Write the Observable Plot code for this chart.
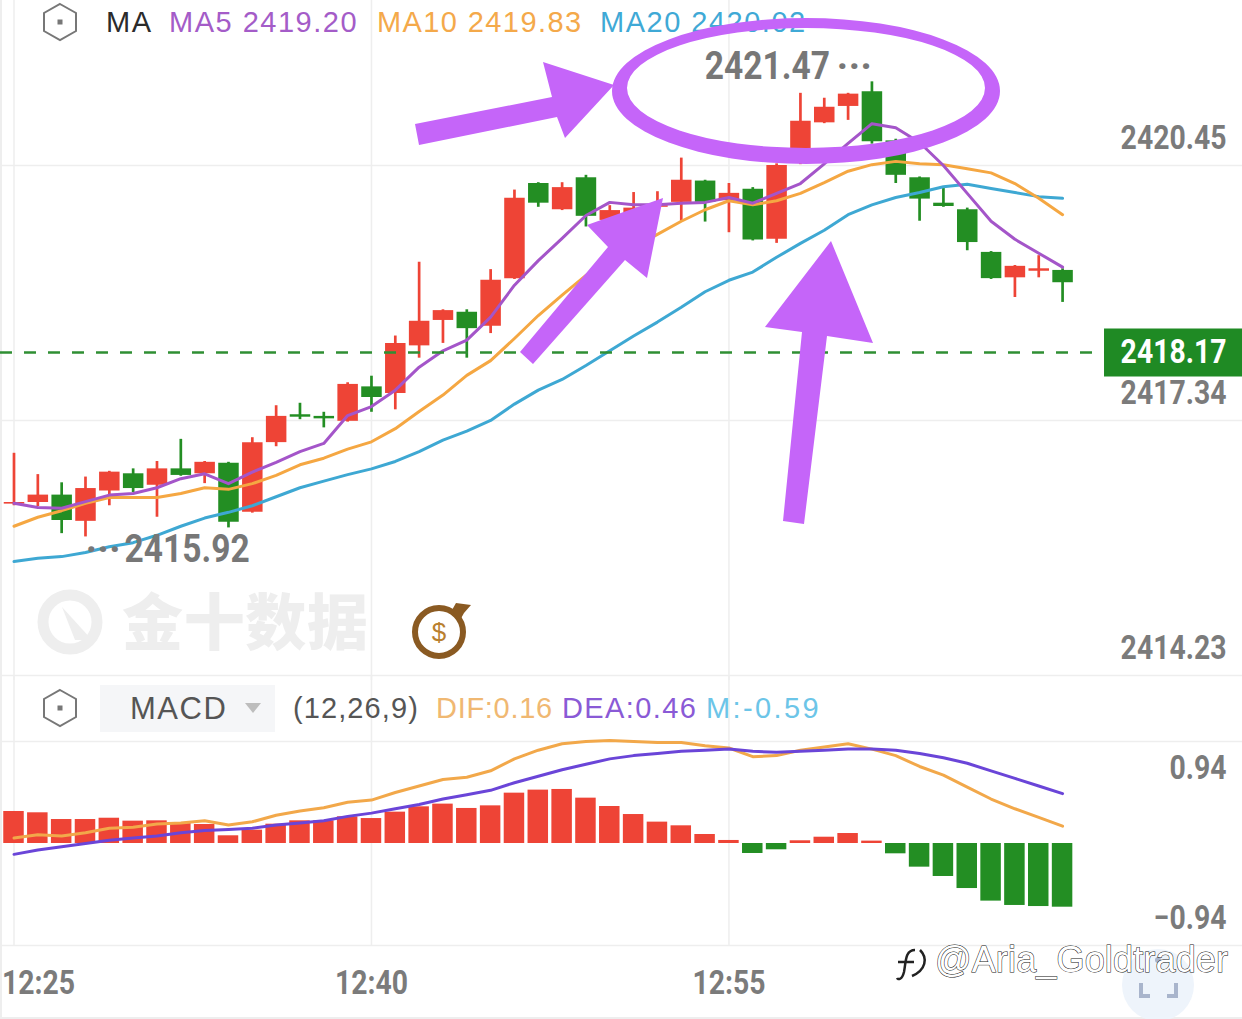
<!DOCTYPE html>
<html><head><meta charset="utf-8">
<script src="https://cdn.jsdelivr.net/npm/d3@7"></script>
<script src="https://cdn.jsdelivr.net/npm/@observablehq/plot@0.6"></script>
<style>
html,body{margin:0;padding:0;background:#fff}
#page{position:relative;width:1242px;height:1019px;overflow:hidden;background:#fff}
#page>svg,#page>div{position:absolute}
#edge{left:0;top:0;width:2px;height:1019px;background:#eeeeee}
#foot{left:0;top:1017px;width:1242px;height:2px;background:#eeeeee}
#macdBox{left:100px;top:685px;width:175px;height:47px;background:#f5f6f8}
.lg{position:absolute;white-space:nowrap;font-family:"Liberation Sans",sans-serif;line-height:1}
.num text{font-family:"Roboto",sans-serif}
</style></head><body><div id="page"><div id="edge"></div><div id="foot"></div><div id="macdBox"></div></div>
<script>
const opens=[2416.32,2416.34,2416.43,2416.11,2416.48,2416.69,2416.55,2416.75,2416.69,2416.82,2416.22,2417.07,2417.41,2417.39,2417.33,2417.75,2417.67,2418.25,2418.56,2418.66,2418.49,2419.07,2420.23,2419.91,2420.30,2419.78,2419.86,2419.94,2420.00,2420.26,2420.02,2420.16,2419.55,2420.48,2420.97,2421.17,2421.35,2420.75,2420.30,2419.99,2419.91,2419.39,2419.08,2419.16,2419.17];
const closes=[2416.34,2416.43,2416.12,2416.51,2416.71,2416.51,2416.75,2416.67,2416.83,2416.10,2417.07,2417.39,2417.38,2417.36,2417.78,2417.62,2418.28,2418.55,2418.68,2418.46,2419.05,2420.05,2419.99,2420.18,2419.83,2419.90,2419.93,2419.96,2420.27,2420.00,2420.11,2419.54,2420.45,2420.99,2421.16,2421.32,2420.74,2420.33,2420.04,2419.95,2419.51,2419.07,2419.22,2419.19,2419.02];
const highs=[2416.94,2416.68,2416.58,2416.65,2416.72,2416.75,2416.84,2417.11,2416.84,2416.83,2417.13,2417.52,2417.55,2417.44,2417.80,2417.88,2418.37,2419.27,2418.69,2418.69,2419.18,2420.15,2420.24,2420.24,2420.33,2419.96,2420.12,2420.13,2420.54,2420.27,2420.23,2420.18,2420.47,2421.33,2421.27,2421.33,2421.47,2420.77,2420.31,2420.18,2419.93,2419.40,2419.23,2419.35,2419.19];
const lows=[2416.30,2416.29,2415.96,2415.92,2416.30,2416.46,2416.16,2416.66,2416.57,2416.03,2416.21,2417.02,2417.35,2417.25,2417.32,2417.44,2417.47,2418.10,2418.28,2418.10,2418.40,2419.06,2419.94,2419.90,2419.70,2419.73,2419.80,2419.88,2419.77,2419.76,2419.63,2419.53,2419.50,2420.46,2420.96,2421.00,2420.71,2420.23,2419.77,2419.94,2419.41,2419.06,2418.84,2419.08,2418.78];
const ma5=[2416.33,2416.28,2416.27,2416.35,2416.43,2416.45,2416.52,2416.63,2416.69,2416.57,2416.71,2416.83,2416.96,2417.06,2417.40,2417.51,2417.71,2417.99,2418.19,2418.32,2418.60,2418.99,2419.29,2419.56,2419.84,2420.00,2419.97,2419.97,2419.99,2420.00,2420.06,2419.99,2420.11,2420.23,2420.47,2420.72,2420.96,2420.91,2420.73,2420.45,2420.11,2419.77,2419.55,2419.38,2419.21];
const ma10=[2416.05,2416.16,2416.24,2416.33,2416.40,2416.40,2416.40,2416.45,2416.52,2416.50,2416.57,2416.67,2416.80,2416.88,2416.99,2417.08,2417.24,2417.45,2417.65,2417.89,2418.07,2418.34,2418.62,2418.87,2419.11,2419.32,2419.45,2419.61,2419.77,2419.91,2420.02,2419.97,2420.02,2420.11,2420.24,2420.38,2420.46,2420.50,2420.47,2420.46,2420.41,2420.36,2420.23,2420.05,2419.85];
const ma20=[2415.62,2415.66,2415.68,2415.73,2415.80,2415.85,2415.94,2416.05,2416.15,2416.22,2416.30,2416.41,2416.52,2416.60,2416.68,2416.75,2416.84,2416.96,2417.10,2417.21,2417.34,2417.54,2417.71,2417.84,2418.01,2418.19,2418.37,2418.54,2418.72,2418.91,2419.05,2419.15,2419.33,2419.50,2419.66,2419.85,2419.97,2420.06,2420.12,2420.19,2420.22,2420.17,2420.12,2420.07,2420.05];
const hist=[0.295,0.283,0.221,0.221,0.233,0.206,0.209,0.184,0.175,0.071,0.123,0.178,0.209,0.209,0.246,0.230,0.289,0.338,0.363,0.323,0.347,0.464,0.492,0.498,0.418,0.341,0.267,0.197,0.163,0.083,0.028,-0.092,-0.058,0.025,0.058,0.092,0.022,-0.095,-0.218,-0.304,-0.415,-0.531,-0.571,-0.581,-0.587];
const dif=[0.05,0.08,0.07,0.10,0.14,0.15,0.18,0.19,0.21,0.17,0.20,0.26,0.30,0.33,0.38,0.40,0.47,0.53,0.59,0.61,0.67,0.78,0.86,0.92,0.94,0.95,0.94,0.93,0.93,0.90,0.88,0.80,0.81,0.86,0.89,0.92,0.87,0.81,0.71,0.63,0.52,0.41,0.32,0.24,0.16];
const dea=[-0.10,-0.06,-0.03,0.00,0.03,0.05,0.07,0.10,0.12,0.13,0.14,0.17,0.19,0.21,0.25,0.28,0.32,0.36,0.41,0.45,0.49,0.56,0.62,0.68,0.73,0.78,0.81,0.83,0.85,0.86,0.87,0.85,0.84,0.85,0.86,0.87,0.87,0.86,0.83,0.79,0.74,0.67,0.60,0.53,0.46];
const priceTicks=[2420.45,2417.34,2414.23];
const macdTicks=[0.94,-0.94];
const lastPrice=2418.17, highPrice=2421.47, lowPrice=2415.92;
const timeLabels=["12:25","12:40","12:55"];

const RED="#ee4436",GREEN="#238e23",GRID="#eeeeee",GREY="#7b7b7b";
const minute=m=>new Date(Date.UTC(2024,0,1,12,25)+m*60000);
const xDomain=[minute(-0.5665),minute(51.55)];
const timeTicks=timeLabels.map(s=>new Date(`2024-01-01T${s}:00Z`));
const rows=opens.map((o,i)=>({t:minute(i),open:o,close:closes[i],high:highs[i],low:lows[i],ma5:ma5[i],ma10:ma10[i],ma20:ma20[i],m:hist[i],dif:dif[i],dea:dea[i]}));
const tone=d=>d.close>=d.open?RED:GREEN;
const fmt=d3.format(".2f");
const page=document.getElementById("page");
const numFont={fontSize:33,fontWeight:700,fill:GREY};
const peakFont={fontSize:39,fontWeight:700,fill:"#777"};

const priceChart=Plot.plot({
  width:1242,height:680,margin:0,className:"num",style:{background:"none",overflow:"visible"},
  x:{type:"utc",domain:xDomain,axis:null},
  y:{domain:[2422.462,2414.23],range:[0,675],axis:null},
  marks:[
    Plot.ruleY(priceTicks,{stroke:GRID,strokeWidth:1.5}),
    Plot.ruleX(timeTicks,{stroke:GRID,strokeWidth:1.5}),
    Plot.axisY(priceTicks,{anchor:"right",label:null,tickSize:0,tickPadding:0,textAnchor:"end",dx:-16,dy:-27,tickFormat:fmt,...numFont}),
    Plot.ruleX(rows,{x:"t",y1:"low",y2:"high",stroke:tone,strokeWidth:2.7}),
    Plot.ruleX(rows,{x:"t",y1:"open",y2:"close",stroke:tone,strokeWidth:20.5,strokeLinecap:"butt"}),
    Plot.line(rows,{x:"t",y:"ma20",stroke:"#3ea8d3",strokeWidth:3}),
    Plot.line(rows,{x:"t",y:"ma10",stroke:"#f5a742",strokeWidth:3}),
    Plot.line(rows,{x:"t",y:"ma5",stroke:"#a455c9",strokeWidth:3}),
    Plot.ruleY([lastPrice],{stroke:"#2f8f33",strokeWidth:2.5,strokeDasharray:"12,12"}),
    Plot.ruleY([lastPrice],{x1:minute(45.76),x2:xDomain[1],stroke:"#1f8a24",strokeWidth:48}),
    Plot.text([lastPrice],{y:d=>d,frameAnchor:"right",dx:-16,text:fmt,textAnchor:"end",fontSize:33,fontWeight:700,fill:"#fff"}),
    Plot.text([rows[36]],{x:"t",y:()=>highPrice,text:()=>fmt(highPrice),textAnchor:"end",dx:-42,dy:-15,...peakFont}),
    Plot.text([rows[36]],{x:"t",y:()=>highPrice,text:()=>"···",textAnchor:"end",dy:-15,...peakFont}),
    Plot.text([rows[3]],{x:"t",y:()=>lowPrice,text:()=>"···",textAnchor:"start",dy:13,...peakFont}),
    Plot.text([rows[3]],{x:"t",y:()=>lowPrice,text:()=>fmt(lowPrice),textAnchor:"start",dx:39,dy:13,...peakFont})
  ]
});
page.appendChild(priceChart);priceChart.style.left="0";priceChart.style.top="0";

const macdChart=Plot.plot({
  width:1242,height:344,margin:0,className:"num",style:{background:"none",overflow:"visible"},
  x:{type:"utc",domain:xDomain,axis:null},
  y:{domain:[1.5484,-1.6221],range:[0,344],axis:null},
  marks:[
    Plot.ruleY(macdTicks,{stroke:GRID,strokeWidth:1.5}),
    Plot.ruleX(timeTicks,{y1:1.5484,y2:-0.94,stroke:GRID,strokeWidth:1.5}),
    Plot.axisY([0.94],{anchor:"right",label:null,tickSize:0,tickPadding:0,textAnchor:"end",dx:-16,dy:27,tickFormat:fmt,...numFont}),
    Plot.axisY([-0.94],{anchor:"right",label:null,tickSize:0,tickPadding:0,textAnchor:"end",dx:-16,dy:-27,tickFormat:d=>`−${fmt(-d)}`,...numFont}),
    Plot.rectY(rows,{x1:d=>new Date(+d.t-25800),x2:d=>new Date(+d.t+25800),y1:0,y2:"m",fill:d=>d.m>=0?RED:GREEN}),
    Plot.line(rows,{x:"t",y:"dif",stroke:"#f2a84a",strokeWidth:3}),
    Plot.line(rows,{x:"t",y:"dea",stroke:"#6a45d8",strokeWidth:3}),
    Plot.axisX(timeTicks.slice(1),{anchor:"bottom",label:null,tickSize:0,tickPadding:0,dy:-36,lineAnchor:"middle",tickFormat:d3.utcFormat("%H:%M"),...numFont}),
    Plot.axisX(timeTicks.slice(0,1),{anchor:"bottom",label:null,tickSize:0,tickPadding:0,dy:-36,dx:-12,textAnchor:"start",lineAnchor:"middle",tickFormat:d3.utcFormat("%H:%M"),...numFont})
  ]
});
page.appendChild(macdChart);macdChart.style.left="0";macdChart.style.top="675px";

// The reference numerals are a condensed face: narrow Roboto's glyphs about each text's own anchor.
document.querySelectorAll(".num text").forEach(t=>{
  if(t.textContent==="···")return;
  t.setAttribute("transform",`${t.getAttribute("transform")||""} scale(0.86,1)`);
});

const legend=[["MA",106,8,29,"#2b2b2b",1.5],["MA5 2419.20",169,8,29,"#a45cc8",1.5],["MA10 2419.83",377,8,29,"#f4a94a",1.4],["MA20 2420.02",600,8,29,"#3fa9d6",1.5],
 ["MACD",130,693,31,"#555",1.5],["(12,26,9)",293,694,29,"#555",1.1],["DIF:0.16",436,694,29,"#f0b872",0.7],["DEA:0.46",562,694,29,"#8a5ad6",1.4],["M:-0.59",706,694,29,"#6cc5e8",2.4]];

const NS="http://www.w3.org/2000/svg";
const deco=document.createElementNS(NS,"svg");
deco.setAttribute("width",1242);deco.setAttribute("height",1019);
deco.style.left="0";deco.style.top="0";deco.style.overflow="visible";
const hex=(cx,cy)=>`<path d="M${cx} ${cy-18}L${cx+16} ${cy-9}V${cy+9}L${cx} ${cy+18}L${cx-16} ${cy+9}V${cy-9}Z" fill="none" stroke="#777" stroke-width="2"/><rect x="${cx-2.5}" y="${cy-2.5}" width="5" height="5" fill="#777"/>`;
deco.innerHTML=`
<path d="M245 703H261L253 713Z" fill="#bdbdbd"/>
${hex(60,22)}${hex(60,708)}
<g fill="none" stroke="#eeeeee" stroke-width="11"><circle cx="70" cy="622" r="27"/></g>
<path d="M62 607L92 640L75 640Z" fill="#eeeeee"/>
<text x="122" y="645" font-family="Noto Sans CJK SC" font-weight="900" font-size="61" fill="#eeeeee" textLength="246">金十数据</text>
<circle cx="439" cy="632" r="24" fill="#fff" stroke="#8a5a22" stroke-width="6"/>
<path d="M452 610L456 603L471 605L464 613L459 622Z" fill="#8a5a22"/>
<text x="439" y="641" text-anchor="middle" font-family="Liberation Sans" font-size="26" fill="#b9802e">$</text>
<circle cx="1158" cy="985" r="36" fill="#eef4fb"/>
<path d="M1141 983V996H1150M1176 983V996H1167" fill="none" stroke="#a9b5cc" stroke-width="4"/>
<circle cx="1158" cy="960" r="3" fill="#a9b5cc"/>
<path fill="#c565f9" fill-rule="evenodd" d="M612 91A194 73 0 1 0 1000 91A194 73 0 1 0 612 91ZM627 88A179 60 0 1 1 985 88A179 60 0 1 1 627 88Z"/>
<path fill="#c565f9" d="M415 124L552 97L543 62L614 85L565 138L557 117L419 145Z"/>
<path fill="#c565f9" d="M520 352L608 247L587 225L663 198L647 278L625 260L533 364Z"/>
<path fill="#c565f9" d="M783 521L802 332L765 327L831 241L873 343L827 336L804 524Z"/>
<text x="935" y="972" font-family="Liberation Sans" font-size="36" fill="#fff" stroke="#111" stroke-width="1" paint-order="stroke" textLength="293">@Aria_Goldtrader</text>
<path d="M915 950C905 950 906 962 904 972C902 980 898 980 897 978M898 962H914M920 950C928 958 926 970 912 976" fill="none" stroke="#222" stroke-width="2.5"/>
`;
page.appendChild(deco);
for(const [s,x,y,f,c,ls] of legend){const e=document.createElement("span");e.className="lg";e.textContent=s;e.style.cssText=`left:${x}px;top:${y}px;font-size:${f}px;color:${c};letter-spacing:${ls}px`;page.insertBefore(e,deco);}
</script></body></html>
